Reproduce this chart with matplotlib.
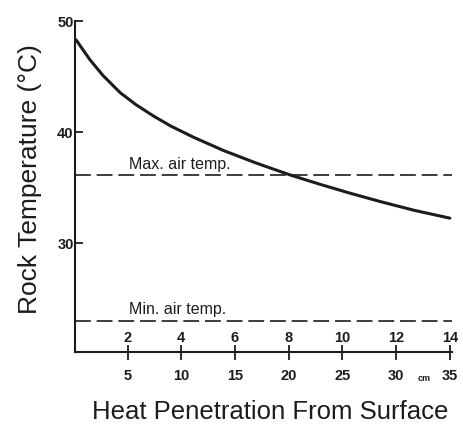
import matplotlib
matplotlib.use("Agg")
import matplotlib.pyplot as plt

plt.rcParams['font.family'] = ['Liberation Sans', 'DejaVu Sans']

# depth into the rock (cm) and rock temperature (deg C)
depth_cm = [0.2, 1.5, 2.7, 4.3, 5.8, 7.4, 9.0, 11.1, 13.9, 17.0, 20.1, 22.9, 25.7, 28.5, 31.7, 35.0]
rock_temp = [48.3, 46.5, 45.1, 43.55, 42.45, 41.45, 40.55, 39.55, 38.35, 37.2, 36.15, 35.3, 34.5,
             33.75, 32.95, 32.25]

max_air = 36.1
min_air = 23.0

cm_ticks = [5, 10, 15, 20, 25, 30, 35]
inch_ticks = [2, 4, 6, 8, 10, 12, 14]
temp_ticks = [30, 40, 50]

ink = '#1c1c1c'

fig = plt.figure(figsize=(4.63, 4.26), dpi=100)
ax = fig.add_axes([75 / 463, 1 - 352 / 426, (452 - 75) / 463, (352 - 21) / 426])

ax.plot(depth_cm, rock_temp, color=ink, lw=2.2, solid_capstyle='round', solid_joinstyle='round')

dash = (0, (9.5, 3.5))
ax.axhline(max_air, color=ink, lw=1.2, ls=dash)
ax.axhline(min_air, color=ink, lw=1.2, ls=dash)
ax.text(5.1, max_air + 0.35, 'Max. air temp.', fontsize=11.5, color=ink, va='bottom')
ax.text(5.1, min_air + 0.35, 'Min. air temp.', fontsize=11.5, color=ink, va='bottom')

ax.set_xlim(0.1, 35.2)
ax.set_ylim(20.2, 50)

for side in ['top', 'right']:
    ax.spines[side].set_visible(False)
for side in ['left', 'bottom']:
    ax.spines[side].set_linewidth(1.5)
    ax.spines[side].set_color(ink)

ax.set_yticks(temp_ticks)
ax.tick_params(axis='y', direction='in', length=6, width=1.3, pad=1,
               labelsize=10.5, colors=ink)
for lab in ax.get_yticklabels():
    lab.set_fontweight('bold')

# cm scale below the axis
ax.set_xticks(cm_ticks)
ax.tick_params(axis='x', direction='out', length=6, width=1.3, pad=6,
               labelsize=10.5, colors=ink)
for lab in ax.get_xticklabels():
    lab.set_fontweight('bold')

# inch scale drawn above the axis line
sec = ax.secondary_xaxis(0, functions=(lambda c: c / 2.5, lambda i: i * 2.5))
sec.set_xticks(inch_ticks)
sec.tick_params(direction='in', length=5, width=1.3, pad=-15,
                labelsize=10.5, colors=ink)
sec.spines['bottom'].set_visible(False)
for lab in sec.get_xticklabels():
    lab.set_fontweight('bold')

ax.annotate('cm', xy=(32.6, 0), xycoords=('data', 'axes fraction'),
            xytext=(0, -19), textcoords='offset points',
            ha='center', va='center', fontsize=6.5, fontweight='bold', color=ink)

ax.set_xlabel('Heat Penetration From Surface', fontsize=18.5, color=ink)
ax.set_ylabel('Rock Temperature (°C)', fontsize=19, color=ink)
ax.xaxis.set_label_coords(0.517, -0.145)
ax.yaxis.set_label_coords(-0.087, 0.523)

fig.savefig('out.png', dpi=100)
